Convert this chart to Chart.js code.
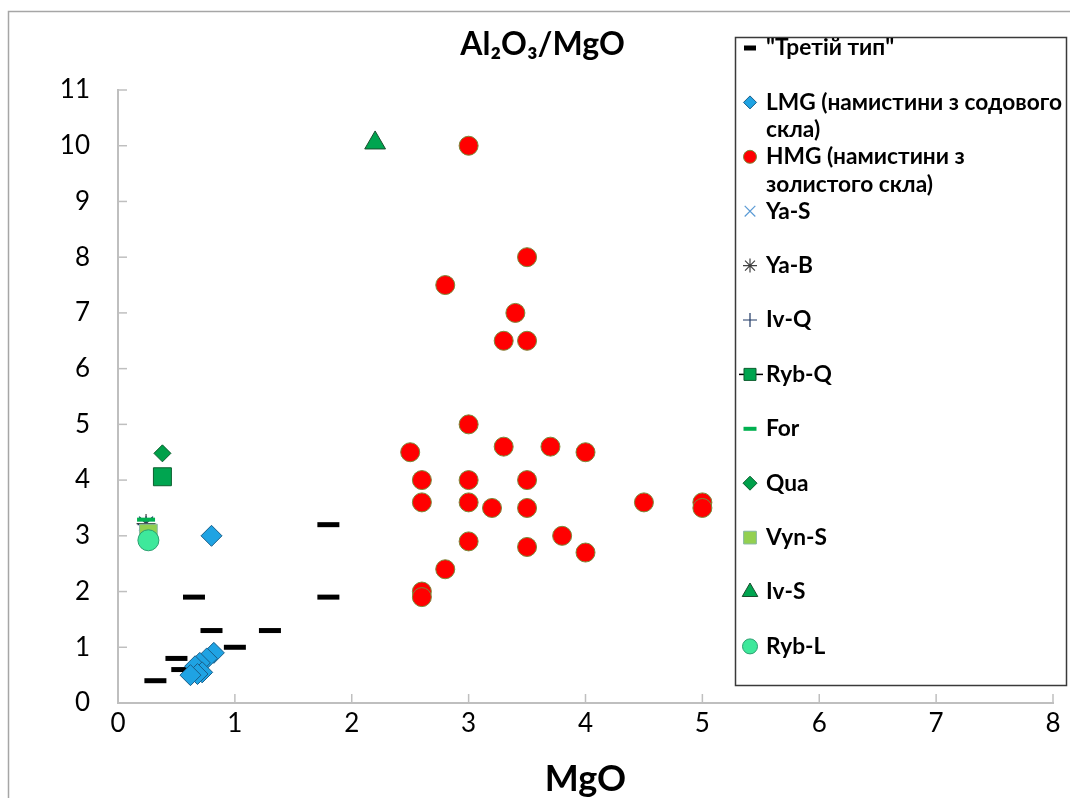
<!DOCTYPE html>
<html><head><meta charset="utf-8">
<script src="https://cdn.jsdelivr.net/npm/chart.js@4/dist/chart.umd.min.js"></script>
<style>html,body{margin:0;padding:0;background:#fff;}#wrap{width:1070px;height:798px;}</style>
</head><body><div id="wrap"><canvas id="c" width="1070" height="798"></canvas></div>
<script>
// ---- data (MgO on x, Al2O3/MgO on y) ----
const tretiiX = [0.32, 0.5, 0.55, 0.65, 0.8, 1.0, 1.3, 1.8, 1.8];
const tretiiY = [0.4, 0.8, 0.6, 1.9, 1.3, 1.0, 1.3, 3.2, 1.9];
const lmgX = [0.8, 0.82, 0.76, 0.7, 0.66, 0.72, 0.68, 0.62];
const lmgY = [3.0, 0.9, 0.8, 0.72, 0.66, 0.55, 0.52, 0.5];
const hmgX = [3, 3.5, 2.8, 3.4, 3.3, 3.5, 3, 2.5, 3.3, 3.7, 4, 2.6, 3, 3.5, 2.6, 3, 3.2, 3.5, 4.5, 5, 5, 3, 3.5, 3.8, 4, 2.8, 2.6, 2.6];
const hmgY = [10, 8, 7.5, 7, 6.5, 6.5, 5, 4.5, 4.6, 4.6, 4.5, 4, 4, 4, 3.6, 3.6, 3.5, 3.5, 3.6, 3.6, 3.5, 2.9, 2.8, 3.0, 2.7, 2.4, 2.0, 1.9];
const yaSX = [0.24], yaSY = [3.22];
const yaBX = [0.24], yaBY = [3.22];
const ivQX = [0.24], ivQY = [3.2];
const rybQX = [0.38], rybQY = [4.06];
const forX = [0.24], forY = [3.29];
const quaX = [0.38], quaY = [4.48];
const vynSX = [0.26], vynSY = [3.05];
const ivSX = [2.2], ivSY = [10.05];
const rybLX = [0.26], rybLY = [2.92];

const seriesLabels = [
  ['"Третій тип"'],
  ['LMG (намистини з содового', 'скла)'],
  ['HMG (намистини з', 'золистого скла)'],
  ['Ya-S'], ['Ya-B'], ['Iv-Q'], ['Ryb-Q'], ['For'], ['Qua'], ['Vyn-S'], ['Iv-S'], ['Ryb-L']
];
const xTicks = [0, 1, 2, 3, 4, 5, 6, 7, 8];
const yTicks = [0, 1, 2, 3, 4, 5, 6, 7, 8, 9, 10, 11];
const chartTitle = 'Al\u2082O\u2083/MgO';
const xTitle = 'MgO';

const pts = (xs, ys) => xs.map((x, i) => ({x: x, y: ys[i]}));

// style per series: [pointStyle, radius, fill, border, borderWidth, legendRadius]
const styles = [
  ['line', 11, '#000000', '#000000', 5, 6],
  ['rectRot', 10.5, '#1fa3e3', '#1a5f8a', 1, 6.5],
  ['circle', 9.5, '#ff0000', '#7a8a3a', 1, 6.5],
  ['crossRot', 10, 'rgba(0,0,0,0)', '#5b9bd5', 1.2, 7.5],
  ['star', 9.5, 'rgba(0,0,0,0)', '#404040', 1.2, 7],
  ['cross', 8.5, 'rgba(0,0,0,0)', '#1f3864', 1.2, 7],
  ['rect', 12.7, '#00a550', '#0b5e2e', 1, 8.5],
  ['line', 9, '#00b050', '#00b050', 4, 6.5],
  ['rectRot', 8.5, '#00a04a', '#0b5e2e', 1, 7],
  ['rect', 12.5, '#92d050', '#86b8a0', 1, 9],
  ['triangle', 12, '#00a550', '#1a4d2e', 1, 9],
  ['circle', 10.5, '#3ee89b', '#2aa070', 1, 7.5]
];
const seriesData = [
  pts(tretiiX, tretiiY), pts(lmgX, lmgY), pts(hmgX, hmgY), pts(yaSX, yaSY), pts(yaBX, yaBY),
  pts(ivQX, ivQY), pts(rybQX, rybQY), pts(forX, forY), pts(quaX, quaY), pts(vynSX, vynSY),
  pts(ivSX, ivSY), pts(rybLX, rybLY)
];

const datasets = seriesData.map((d, i) => ({
  label: seriesLabels[i].join(' '),
  data: d,
  pointStyle: styles[i][0],
  pointRadius: styles[i][1],
  pointHoverRadius: styles[i][1],
  backgroundColor: styles[i][2],
  borderColor: styles[i][3],
  pointBorderWidth: styles[i][4],
  borderWidth: styles[i][4],
  showLine: false,
  order: 100 - i
}));

const frame = {
  id: 'frame',
  beforeDraw(chart) {
    const ctx = chart.ctx;
    ctx.save();
    ctx.fillStyle = '#fff';
    ctx.fillRect(0, 0, chart.width, chart.height);
    ctx.strokeStyle = '#a6a6a6';
    ctx.lineWidth = 1.5;
    ctx.strokeRect(8.5, 11.5, 1100, 900);
    ctx.restore();
  }
};

const innerTicks = {
  id: 'innerTicks',
  beforeDatasetsDraw(chart) {
    const ctx = chart.ctx, xs = chart.scales.x, ys = chart.scales.y;
    ctx.save();
    ctx.strokeStyle = '#bfbfbf';
    ctx.lineWidth = 1.5;
    xs.ticks.forEach(t => {
      const px = xs.getPixelForValue(t.value);
      ctx.beginPath(); ctx.moveTo(px, ys.bottom); ctx.lineTo(px, ys.bottom - 9); ctx.stroke();
    });
    ys.ticks.forEach(t => {
      const py = ys.getPixelForValue(t.value);
      ctx.beginPath(); ctx.moveTo(xs.left, py); ctx.lineTo(xs.left + 9, py); ctx.stroke();
    });
    ctx.restore();
  }
};

const legendBox = {
  id: 'legendBox',
  afterDraw(chart) {
    const ctx = chart.ctx;
    const H = Chart.helpers;
    ctx.save();
    ctx.fillStyle = '#fff';
    ctx.fillRect(735, 37, 332, 649);
    ctx.strokeStyle = '#3a3a3a';
    ctx.lineWidth = 1.5;
    ctx.strokeRect(735.5, 37.5, 331, 648);
    // fit the longest legend line to the legend width
    ctx.font = 'bold 20px Lato';
    let widest = 0;
    seriesLabels.forEach(l => l.forEach(s => { widest = Math.max(widest, ctx.measureText(s).width); }));
    const fs = Math.min(24, 20 * 296 / widest);
    ctx.font = 'bold ' + fs.toFixed(2) + 'px Lato';
    ctx.textBaseline = 'middle';
    ctx.textAlign = 'left';
    chart.data.datasets.forEach((ds, i) => {
      const y = 48 + 54.4 * i;
      const st = styles[i];
      const mx = 750;
      ctx.save();
      if (i === 6) {
        ctx.strokeStyle = '#000';
        ctx.lineWidth = 1.5;
        ctx.beginPath(); ctx.moveTo(739, y); ctx.lineTo(763, y); ctx.stroke();
      }
      ctx.fillStyle = st[2];
      ctx.strokeStyle = st[3];
      ctx.lineWidth = st[4];
      H.drawPoint(ctx, {pointStyle: st[0], radius: st[5], borderWidth: st[4] === 5 ? 4 : st[4], rotation: 0}, mx, y);
      ctx.restore();
      ctx.fillStyle = '#000';
      seriesLabels[i].forEach((ln, k) => ctx.fillText(ln, 766, y + 27.5 * k));
    });
    ctx.restore();
  }
};

new Chart(document.getElementById('c'), {
  type: 'scatter',
  data: {datasets: datasets},
  plugins: [frame, innerTicks, legendBox],
  options: {
    responsive: false,
    animation: false,
    events: [],
    layout: {padding: {top: 0, left: 32, right: 17, bottom: 0}},
    plugins: {
      legend: {display: false},
      tooltip: {enabled: false},
      title: {
        display: true, text: chartTitle, color: '#000',
        font: {family: 'Lato', size: 32, weight: 'bold', lineHeight: 1.2},
        padding: {top: 25, bottom: 26.6}
      }
    },
    scales: {
      x: {
        type: 'linear', min: 0, max: 8,
        afterBuildTicks: s => { s.ticks = xTicks.map(v => ({value: v})); },
        ticks: {color: '#000', font: {family: 'Lato', size: 26}, padding: 3},
        grid: {display: true, drawOnChartArea: false, drawTicks: true, tickLength: 2, tickColor: 'rgba(0,0,0,0)'},
        border: {display: true, color: '#bfbfbf', width: 2},
        title: {display: true, text: xTitle, color: '#000', font: {family: 'Lato', size: 36, weight: 'bold', lineHeight: 1}, padding: {top: 0, bottom: 1}},
        afterFit: s => { s.height = 95; }
      },
      y: {
        type: 'linear', min: 0, max: 11,
        afterBuildTicks: s => { s.ticks = yTicks.map(v => ({value: v})); },
        ticks: {color: '#000', font: {family: 'Lato', size: 26}, padding: 2},
        grid: {display: true, drawOnChartArea: false, drawTicks: true, tickLength: 26, tickColor: 'rgba(0,0,0,0)'},
        border: {display: true, color: '#bfbfbf', width: 2},
        afterFit: s => { s.width = 86; }
      }
    }
  }
});
</script>
</body></html>
